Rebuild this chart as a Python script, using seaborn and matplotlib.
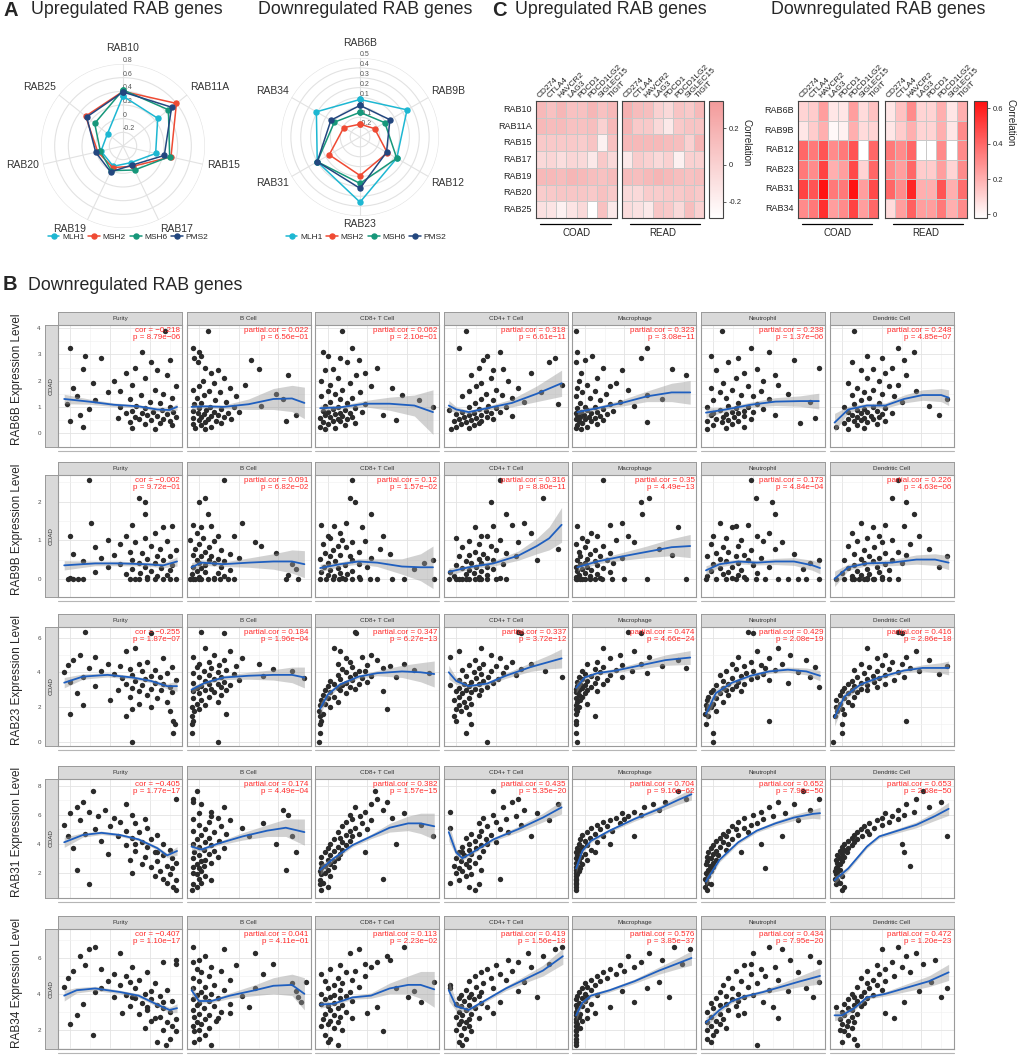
import numpy as np
import pandas as pd
import matplotlib
matplotlib.use("Agg")
import matplotlib.pyplot as plt
from matplotlib.colors import LinearSegmentedColormap
from matplotlib.lines import Line2D
import seaborn as sns

sns.set_style("white")
plt.rcParams["font.family"] = ["Liberation Sans", "DejaVu Sans"]


# ---------------------------
# 1. PANEL A - RADAR DATA
# ---------------------------
up_genes = ["RAB10", "RAB11A", "RAB15", "RAB17", "RAB19", "RAB20", "RAB25"]
up_mlh1 = [0.33, 0.25, 0.09, -0.13, -0.07, -0.07, -0.11]
up_msh2 = [0.40, 0.60, 0.32, -0.07, -0.05, -0.02, 0.30]
up_msh6 = [0.42, 0.45, 0.30, -0.01, 0.00, -0.06, 0.13]
up_pms2 = [0.39, 0.51, 0.22, -0.09, 0.02, 0.01, 0.28]

down_genes = ["RAB6B", "RAB9B", "RAB12", "RAB23", "RAB31", "RAB34"]
dn_mlh1 = [0.08, 0.25, 0.13, 0.36, 0.20, 0.21]
dn_msh2 = [-0.17, -0.13, 0.02, 0.09, 0.06, -0.11]
dn_msh6 = [-0.05, -0.01, 0.13, 0.17, 0.20, 0.00]
dn_pms2 = [0.02, 0.05, 0.01, 0.22, 0.20, 0.04]

mmr_names = ["MLH1", "MSH2", "MSH6", "PMS2"]
mmr_colors = ["#1db7d2", "#ef4a33", "#16977a", "#23477f"]


# ---------------------------
# 2. PANEL C - HEATMAP DATA
# ---------------------------
checkpoints = ["CD274", "CTLA4", "HAVCR2", "LAG3", "PDCD1", "PDCD1LG2", "SIGLEC15", "TIGIT"]

hm_up_genes = ["RAB10", "RAB11A", "RAB15", "RAB17", "RAB19", "RAB20", "RAB25"]
up_coad = [
    [0.15, 0.10, 0.17, 0.10, 0.10, 0.17, 0.10, 0.15],
    [0.15, 0.13, 0.14, 0.10, 0.10, 0.12, 0.00, 0.15],
    [0.05, 0.05, 0.05, 0.05, 0.03, 0.08, -0.20, 0.10],
    [-0.05, -0.03, -0.08, -0.03, -0.05, -0.15, 0.05, -0.05],
    [0.15, 0.15, 0.13, 0.17, 0.15, 0.12, 0.10, 0.13],
    [0.03, 0.05, 0.07, 0.07, 0.07, 0.05, 0.10, 0.05],
    [-0.10, -0.12, -0.20, -0.12, -0.05, -0.28, 0.10, -0.15],
]
up_read = [
    [0.20, 0.13, 0.12, 0.00, -0.05, 0.08, 0.05, 0.15],
    [0.18, 0.05, 0.05, -0.05, -0.15, 0.05, 0.08, 0.08],
    [0.15, 0.15, 0.15, 0.15, 0.13, 0.12, 0.00, 0.18],
    [-0.15, 0.03, 0.00, -0.05, 0.00, -0.20, 0.00, 0.00],
    [0.13, 0.12, 0.15, 0.18, 0.15, 0.12, 0.10, 0.12],
    [-0.05, -0.05, 0.03, 0.03, 0.05, 0.05, 0.08, 0.05],
    [-0.07, -0.10, -0.15, 0.07, 0.05, -0.05, 0.12, 0.00],
]

hm_dn_genes = ["RAB6B", "RAB9B", "RAB12", "RAB23", "RAB31", "RAB34"]
dn_coad = [
    [0.10, 0.12, 0.25, 0.05, 0.05, 0.25, 0.08, 0.15],
    [0.05, 0.12, 0.20, 0.00, 0.02, 0.20, 0.08, 0.10],
    [0.40, 0.35, 0.45, 0.30, 0.35, 0.45, -0.02, 0.40],
    [0.35, 0.30, 0.50, 0.20, 0.25, 0.48, 0.10, 0.40],
    [0.50, 0.45, 0.63, 0.35, 0.35, 0.63, 0.25, 0.48],
    [0.30, 0.35, 0.55, 0.25, 0.30, 0.50, 0.25, 0.40],
]
dn_read = [
    [0.05, 0.15, 0.30, 0.10, 0.10, 0.20, 0.05, 0.20],
    [0.05, 0.12, 0.20, 0.10, 0.10, 0.20, 0.05, 0.30],
    [0.35, 0.30, 0.40, -0.02, -0.02, 0.30, -0.02, 0.30],
    [0.30, 0.25, 0.40, 0.12, 0.12, 0.25, 0.10, 0.30],
    [0.40, 0.30, 0.58, 0.20, 0.20, 0.45, 0.20, 0.38],
    [0.08, 0.25, 0.42, 0.25, 0.25, 0.35, 0.20, 0.30],
]


# ---------------------------
# 3. PANEL B - SCATTER DATA
# ---------------------------
cells = ["Purity", "B Cell", "CD8+ T Cell", "CD4+ T Cell", "Macrophage", "Neutrophil", "Dendritic Cell"]

# RAB6B
rab6b_y = [3.9, 3.25, 3.1, 2.95, 2.85, 2.8, 2.7, 2.5, 2.45, 2.4, 2.3, 2.2, 2.1, 2.0, 1.9, 1.85, 1.8, 1.7, 1.65, 1.6,
           1.55, 1.5, 1.45, 1.4, 1.35, 1.3, 1.25, 1.2, 1.15, 1.1, 1.05, 1.0, 0.98, 0.95, 0.9, 0.88, 0.85, 0.82, 0.8, 0.78,
           0.75, 0.72, 0.7, 0.68, 0.65, 0.62, 0.6, 0.58, 0.55, 0.52, 0.5, 0.48, 0.45, 0.42, 0.4, 0.35, 0.3, 0.25, 0.2, 0.15]
rab6b_x = [
    [0.86, 0.1, 0.68, 0.22, 0.35, 0.9, 0.75, 0.62, 0.2, 0.8, 0.55, 0.88, 0.7, 0.45, 0.28, 0.6, 0.95, 0.12, 0.78, 0.5,
     0.4, 0.85, 0.67, 0.15, 0.92, 0.58, 0.3, 0.74, 0.82, 0.07, 0.63, 0.9, 0.5, 0.7, 0.25, 0.84, 0.6, 0.77, 0.93, 0.55,
     0.68, 0.88, 0.18, 0.72, 0.8, 0.62, 0.95, 0.48, 0.85, 0.65, 0.75, 0.9, 0.1, 0.58, 0.82, 0.7, 0.92, 0.2, 0.6, 0.78],
    [0.17, 0.05, 0.1, 0.12, 0.06, 0.52, 0.09, 0.15, 0.58, 0.25, 0.2, 0.82, 0.3, 0.13, 0.22, 0.47, 0.1, 0.35, 0.05, 0.18,
     0.27, 0.72, 0.14, 0.4, 0.08, 0.78, 0.23, 0.32, 0.12, 0.06, 0.6, 0.19, 0.38, 0.1, 0.28, 0.16, 0.05, 0.42, 0.22, 0.09,
     0.33, 0.14, 0.25, 0.88, 0.2, 0.12, 0.3, 0.05, 0.17, 0.36, 0.1, 0.24, 0.8, 0.15, 0.28, 0.05, 0.12, 0.2, 0.07, 0.15],
    [0.22, 0.3, 0.06, 0.1, 0.2, 0.35, 0.26, 0.5, 0.14, 0.08, 0.4, 0.33, 0.18, 0.05, 0.28, 0.12, 0.45, 0.62, 0.22, 0.1,
     0.36, 0.16, 0.7, 0.05, 0.3, 0.2, 0.84, 0.12, 0.26, 0.4, 0.08, 0.18, 0.95, 0.32, 0.14, 0.24, 0.06, 0.38, 0.1, 0.2,
     0.28, 0.16, 0.55, 0.08, 0.22, 0.3, 0.12, 0.04, 0.18, 0.26, 0.65, 0.14, 0.2, 0.06, 0.32, 0.1, 0.24, 0.04, 0.16, 0.08],
    [0.18, 0.12, 0.45, 0.35, 0.9, 0.32, 0.85, 0.28, 0.48, 0.4, 0.7, 0.22, 0.38, 0.52, 0.3, 0.95, 0.26, 0.6, 0.42, 0.2,
     0.78, 0.34, 0.47, 0.15, 0.55, 0.3, 0.4, 0.65, 0.25, 0.92, 0.36, 0.5, 0.2, 0.42, 0.28, 0.04, 0.34, 0.15, 0.45, 0.24,
     0.38, 0.1, 0.3, 0.2, 0.55, 0.16, 0.35, 0.26, 0.12, 0.4, 0.22, 0.3, 0.08, 0.18, 0.28, 0.14, 0.24, 0.1, 0.2, 0.06],
    [0.03, 0.6, 0.04, 0.16, 0.55, 0.1, 0.03, 0.25, 0.8, 0.4, 0.07, 0.92, 0.2, 0.05, 0.35, 0.12, 0.3, 0.04, 0.45, 0.18,
     0.08, 0.27, 0.6, 0.03, 0.14, 0.72, 0.22, 0.38, 0.06, 0.3, 0.5, 0.1, 0.18, 0.04, 0.25, 0.12, 0.33, 0.07, 0.2, 0.03,
     0.15, 0.28, 0.09, 0.04, 0.22, 0.13, 0.06, 0.18, 0.03, 0.1, 0.25, 0.05, 0.15, 0.6, 0.08, 0.2, 0.04, 0.12, 0.03, 0.07],
    [0.17, 0.4, 0.55, 0.08, 0.3, 0.75, 0.22, 0.95, 0.45, 0.12, 0.35, 0.6, 0.28, 0.5, 0.18, 0.62, 0.38, 0.08, 0.25, 0.48,
     0.15, 0.7, 0.32, 0.42, 0.2, 0.55, 0.1, 0.88, 0.3, 0.45, 0.22, 0.38, 0.05, 0.28, 0.5, 0.15, 0.35, 0.25, 0.42, 0.1,
     0.3, 0.2, 0.6, 0.08, 0.35, 0.18, 0.27, 0.92, 0.12, 0.4, 0.22, 0.3, 0.05, 0.17, 0.8, 0.25, 0.1, 0.35, 0.2, 0.05],
    [0.2, 0.55, 0.68, 0.3, 0.42, 0.6, 0.18, 0.5, 0.35, 0.25, 0.45, 0.62, 0.3, 0.4, 0.15, 0.55, 0.48, 0.22, 0.35, 0.7,
     0.28, 0.42, 0.18, 0.52, 0.32, 0.95, 0.25, 0.58, 0.4, 0.2, 0.8, 0.35, 0.12, 0.45, 0.28, 0.22, 0.38, 0.15, 0.3, 0.5,
     0.25, 0.42, 0.18, 0.88, 0.33, 0.22, 0.4, 0.28, 0.15, 0.35, 0.25, 0.45, 0.2, 0.3, 0.12, 0.38, 0.22, 0.05, 0.28, 0.15],
]
rab6b_fit_x = [[0.05, 0.25, 0.45, 0.65, 0.8, 0.9, 0.96], [0.04, 0.15, 0.3, 0.5, 0.7, 0.85, 0.95],
               [0.04, 0.2, 0.4, 0.6, 0.8, 0.95], [0.04, 0.1, 0.2, 0.35, 0.55, 0.75, 0.95],
               [0.04, 0.2, 0.4, 0.6, 0.8, 0.95], [0.04, 0.2, 0.4, 0.6, 0.8, 0.95],
               [0.04, 0.15, 0.3, 0.45, 0.6, 0.75, 0.9, 0.96]]
rab6b_fit_y = [[1.3, 1.2, 1.08, 1.02, 0.9, 0.88, 1.0], [1.0, 1.02, 1.0, 1.1, 1.3, 1.32, 1.15],
               [0.95, 0.98, 1.12, 1.12, 1.05, 0.8], [1.05, 0.9, 0.8, 0.95, 1.15, 1.5, 1.9],
               [0.8, 0.95, 1.15, 1.4, 1.55, 1.55], [0.78, 0.9, 1.08, 1.2, 1.22, 1.22],
               [0.4, 0.9, 1.05, 1.05, 1.3, 1.45, 1.45, 1.35]]
rab6b_fit_se = [[0.18, 0.1, 0.07, 0.06, 0.07, 0.08, 0.12], [0.12, 0.06, 0.07, 0.2, 0.4, 0.5, 0.6],
                [0.12, 0.06, 0.12, 0.25, 0.4, 0.85], [0.2, 0.1, 0.07, 0.07, 0.15, 0.3, 0.5],
                [0.1, 0.07, 0.12, 0.2, 0.35, 0.45], [0.18, 0.08, 0.1, 0.15, 0.2, 0.3],
                [0.35, 0.12, 0.08, 0.1, 0.15, 0.2, 0.25, 0.3]]
rab6b_stats = [("−0.218", "8.79e−06"), ("0.022", "6.56e−01"), ("0.062", "2.10e−01"), ("0.318", "6.61e−11"),
               ("0.323", "3.08e−11"), ("0.238", "1.37e−06"), ("0.248", "4.85e−07")]

# RAB9B
rab9b_y = [2.55, 2.1, 1.98, 1.68, 1.45, 1.4, 1.38, 1.35, 1.2, 1.12, 1.1, 1.05, 1.0, 0.98, 0.95, 0.9, 0.85, 0.82, 0.78, 0.75,
           0.7, 0.68, 0.65, 0.62, 0.6, 0.58, 0.55, 0.52, 0.5, 0.48, 0.45, 0.42, 0.4, 0.38, 0.35, 0.32, 0.3, 0.28, 0.25, 0.22,
           0.2, 0.18, 0.15, 0.12, 0.1, 0.08, 0.05, 0.03, 0.0, 0.0, 0.0, 0.0, 0.0, 0.0, 0.0, 0.0, 0.0, 0.0, 0.0, 0.0]
rab9b_x = [
    [0.25, 0.65, 0.7, 0.7, 0.27, 0.6, 0.92, 0.85, 0.78, 0.1, 0.55, 0.7, 0.4, 0.88, 0.62, 0.5, 0.75, 0.3, 0.82, 0.95,
     0.58, 0.68, 0.12, 0.45, 0.8, 0.9, 0.35, 0.72, 0.6, 0.85, 0.2, 0.65, 0.78, 0.5, 0.92, 0.7, 0.4, 0.83, 0.6, 0.9,
     0.75, 0.3, 0.66, 0.55, 0.88, 0.8, 0.72, 0.1, 0.08, 0.12, 0.16, 0.2, 0.58, 0.65, 0.72, 0.78, 0.85, 0.9, 0.62, 0.95],
    [0.3, 0.15, 0.1, 0.17, 0.45, 0.05, 0.2, 0.12, 0.08, 0.25, 0.38, 0.13, 0.03, 0.22, 0.55, 0.1, 0.6, 0.18, 0.07, 0.28,
     0.15, 0.72, 0.35, 0.05, 0.2, 0.12, 0.42, 0.25, 0.08, 0.18, 0.3, 0.1, 0.22, 0.85, 0.15, 0.05, 0.28, 0.12, 0.88, 0.35,
     0.08, 0.15, 0.25, 0.04, 0.82, 0.3, 0.1, 0.22, 0.03, 0.07, 0.12, 0.17, 0.22, 0.27, 0.33, 0.38, 0.05, 0.1, 0.8, 0.9],
    [0.3, 0.28, 0.32, 0.45, 0.25, 0.05, 0.15, 0.38, 0.2, 0.1, 0.55, 0.12, 0.22, 0.4, 0.3, 0.06, 0.18, 0.25, 0.52, 0.14,
     0.35, 0.08, 0.6, 0.2, 0.28, 0.12, 0.45, 0.04, 0.95, 0.3, 0.16, 0.88, 0.1, 0.35, 0.24, 0.07, 0.42, 0.18, 0.8, 0.12,
     0.3, 0.05, 0.2, 0.26, 0.1, 0.15, 0.35, 0.22, 0.04, 0.09, 0.14, 0.19, 0.24, 0.3, 0.36, 0.44, 0.5, 0.62, 0.72, 0.96],
    [0.45, 0.8, 0.38, 0.5, 0.65, 0.55, 0.4, 0.25, 0.7, 0.3, 0.35, 0.1, 0.45, 0.2, 0.6, 0.28, 0.38, 0.15, 0.92, 0.42,
     0.25, 0.5, 0.32, 0.2, 0.58, 0.12, 0.35, 0.28, 0.75, 0.4, 0.18, 0.3, 0.22, 0.48, 0.1, 0.35, 0.26, 0.15, 0.4, 0.2,
     0.3, 0.05, 0.24, 0.18, 0.35, 0.08, 0.28, 0.45, 0.04, 0.1, 0.15, 0.2, 0.25, 0.3, 0.35, 0.42, 0.5, 0.18, 0.12, 0.28],
    [0.25, 0.62, 0.55, 0.56, 0.4, 0.3, 0.04, 0.85, 0.15, 0.45, 0.2, 0.08, 0.35, 0.12, 0.5, 0.03, 0.25, 0.1, 0.7, 0.18,
     0.05, 0.3, 0.14, 0.8, 0.22, 0.06, 0.4, 0.12, 0.28, 0.04, 0.18, 0.1, 0.33, 0.06, 0.2, 0.03, 0.12, 0.25, 0.08, 0.15,
     0.04, 0.3, 0.1, 0.2, 0.05, 0.14, 0.03, 0.22, 0.03, 0.06, 0.1, 0.14, 0.18, 0.24, 0.32, 0.42, 0.6, 0.92, 0.08, 0.04],
    [0.4, 0.44, 0.57, 0.6, 0.15, 0.38, 0.28, 0.25, 0.55, 0.1, 0.45, 0.2, 0.32, 0.5, 0.65, 0.08, 0.3, 0.18, 0.6, 0.4,
     0.22, 0.12, 0.75, 0.35, 0.05, 0.28, 0.48, 0.15, 0.95, 0.38, 0.2, 0.88, 0.3, 0.1, 0.42, 0.25, 0.55, 0.15, 0.82, 0.32,
     0.08, 0.22, 0.45, 0.18, 0.3, 0.05, 0.35, 0.25, 0.04, 0.12, 0.2, 0.28, 0.36, 0.44, 0.52, 0.62, 0.7, 0.78, 0.85, 0.95],
    [0.55, 0.5, 0.62, 0.68, 0.25, 0.45, 0.6, 0.35, 0.18, 0.72, 0.4, 0.3, 0.5, 0.22, 0.42, 0.65, 0.15, 0.36, 0.8, 0.28,
     0.55, 0.45, 0.2, 0.62, 0.32, 0.95, 0.4, 0.25, 0.5, 0.12, 0.35, 0.58, 0.28, 0.45, 0.2, 0.88, 0.38, 0.15, 0.3, 0.48,
     0.22, 0.4, 0.1, 0.32, 0.25, 0.18, 0.42, 0.3, 0.05, 0.12, 0.18, 0.24, 0.3, 0.36, 0.42, 0.48, 0.55, 0.2, 0.28, 0.35],
]
rab9b_fit_x = [[0.05, 0.3, 0.5, 0.7, 0.85, 0.96], [0.04, 0.12, 0.3, 0.5, 0.7, 0.85, 0.95],
               [0.04, 0.2, 0.35, 0.5, 0.7, 0.85, 0.95], [0.04, 0.2, 0.4, 0.6, 0.75, 0.85, 0.95],
               [0.04, 0.2, 0.4, 0.6, 0.8, 0.95], [0.04, 0.15, 0.3, 0.45, 0.6, 0.75, 0.9, 0.96],
               [0.04, 0.15, 0.3, 0.5, 0.7, 0.85, 0.96]]
rab9b_fit_y = [[0.35, 0.4, 0.4, 0.38, 0.35, 0.45], [0.3, 0.42, 0.38, 0.42, 0.45, 0.45, 0.38],
               [0.28, 0.38, 0.45, 0.42, 0.32, 0.3, 0.3], [0.18, 0.3, 0.4, 0.6, 0.85, 1.05, 1.4],
               [0.3, 0.45, 0.58, 0.7, 0.82, 0.85], [0.22, 0.38, 0.45, 0.42, 0.45, 0.45, 0.35, 0.28],
               [0.0, 0.3, 0.4, 0.42, 0.5, 0.5, 0.42]]
rab9b_fit_se = [[0.12, 0.06, 0.06, 0.05, 0.06, 0.12], [0.12, 0.07, 0.06, 0.12, 0.2, 0.3, 0.35],
                [0.1, 0.06, 0.07, 0.1, 0.2, 0.35, 0.55], [0.1, 0.05, 0.07, 0.12, 0.2, 0.3, 0.45],
                [0.1, 0.06, 0.1, 0.15, 0.22, 0.3], [0.12, 0.07, 0.06, 0.06, 0.08, 0.1, 0.13, 0.15],
                [0.2, 0.08, 0.06, 0.08, 0.12, 0.15, 0.18]]
rab9b_stats = [("−0.002", "9.72e−01"), ("0.091", "6.82e−02"), ("0.12", "1.57e−02"), ("0.316", "8.80e−11"),
               ("0.35", "4.49e−13"), ("0.173", "4.84e−04"), ("0.226", "4.63e−06")]

# RAB23
rab23_y = [6.3, 5.4, 5.2, 5.0, 4.9, 4.8, 4.7, 4.6, 4.5, 4.45, 4.4, 4.35, 4.3, 4.25, 4.2, 4.15, 4.1, 4.05, 4.0, 3.95,
           3.9, 3.85, 3.8, 3.75, 3.7, 3.65, 3.6, 3.55, 3.5, 3.45, 3.4, 3.35, 3.3, 3.25, 3.2, 3.15, 3.1, 3.05, 3.0, 2.95,
           2.9, 2.85, 2.8, 2.7, 2.6, 2.5, 2.4, 2.3, 2.2, 2.1, 2.0, 1.9, 1.75, 1.6, 1.5, 1.2, 1.0, 0.5, 0.0, 6.25]
rab23_x = [
    [0.22, 0.62, 0.55, 0.18, 0.3, 0.85, 0.12, 0.72, 0.4, 0.65, 0.08, 0.5, 0.92, 0.25, 0.58, 0.78, 0.35, 0.68, 0.05, 0.88,
     0.45, 0.6, 0.75, 0.2, 0.82, 0.52, 0.7, 0.95, 0.62, 0.1, 0.78, 0.55, 0.85, 0.68, 0.3, 0.9, 0.6, 0.75, 0.48, 0.83,
     0.65, 0.92, 0.15, 0.72, 0.58, 0.8, 0.42, 0.88, 0.65, 0.2, 0.75, 0.6, 0.9, 0.1, 0.55, 0.93, 0.94, 0.93, 0.6, 0.75],
    [0.12, 0.15, 0.35, 0.22, 0.05, 0.45, 0.3, 0.18, 0.58, 0.1, 0.26, 0.4, 0.08, 0.2, 0.7, 0.32, 0.14, 0.85, 0.25, 0.05,
     0.38, 0.18, 0.62, 0.28, 0.1, 0.95, 0.22, 0.42, 0.15, 0.3, 0.05, 0.25, 0.18, 0.35, 0.12, 0.28, 0.08, 0.2, 0.32, 0.15,
     0.05, 0.22, 0.1, 0.28, 0.18, 0.05, 0.12, 0.25, 0.08, 0.15, 0.04, 0.1, 0.06, 0.32, 0.04, 0.05, 0.04, 0.04, 0.25, 0.3],
    [0.32, 0.15, 0.2, 0.45, 0.38, 0.25, 0.5, 0.28, 0.72, 0.18, 0.42, 0.6, 0.3, 0.55, 0.22, 0.8, 0.35, 0.4, 0.25, 0.92,
     0.32, 0.18, 0.45, 0.28, 0.65, 0.38, 0.2, 0.3, 0.12, 0.42, 0.25, 0.15, 0.35, 0.22, 0.1, 0.28, 0.18, 0.32, 0.08, 0.2,
     0.55, 0.12, 0.25, 0.06, 0.15, 0.1, 0.05, 0.18, 0.08, 0.04, 0.12, 0.58, 0.03, 0.06, 0.04, 0.05, 0.04, 0.04, 0.03, 0.33],
    [0.6, 0.3, 0.12, 0.38, 0.05, 0.45, 0.25, 0.55, 0.32, 0.7, 0.2, 0.42, 0.5, 0.28, 0.62, 0.15, 0.38, 0.82, 0.24, 0.48,
     0.3, 0.58, 0.18, 0.36, 0.95, 0.26, 0.44, 0.12, 0.32, 0.22, 0.4, 0.16, 0.28, 0.05, 0.2, 0.35, 0.12, 0.25, 0.18, 0.3,
     0.1, 0.22, 0.15, 0.28, 0.12, 0.2, 0.08, 0.16, 0.22, 0.12, 0.18, 0.1, 0.14, 0.2, 0.08, 0.1, 0.22, 0.18, 0.35, 0.62],
    [0.45, 0.25, 0.5, 0.38, 0.62, 0.3, 0.85, 0.2, 0.55, 0.12, 0.4, 0.72, 0.25, 0.92, 0.18, 0.35, 0.08, 0.48, 0.22, 0.6,
     0.1, 0.3, 0.15, 0.05, 0.4, 0.2, 0.08, 0.28, 0.12, 0.04, 0.18, 0.06, 0.25, 0.1, 0.04, 0.15, 0.08, 0.03, 0.12, 0.05,
     0.2, 0.03, 0.1, 0.05, 0.08, 0.03, 0.06, 0.04, 0.12, 0.03, 0.05, 0.03, 0.04, 0.03, 0.18, 0.03, 0.03, 0.03, 0.04, 0.55],
    [0.38, 0.62, 0.45, 0.72, 0.3, 0.55, 0.85, 0.4, 0.25, 0.65, 0.48, 0.35, 0.92, 0.52, 0.28, 0.6, 0.42, 0.2, 0.78, 0.36,
     0.5, 0.15, 0.32, 0.45, 0.88, 0.25, 0.4, 0.55, 0.18, 0.3, 0.7, 0.22, 0.35, 0.12, 0.28, 0.95, 0.18, 0.25, 0.1, 0.2,
     0.32, 0.08, 0.15, 0.22, 0.06, 0.12, 0.05, 0.18, 0.1, 0.04, 0.08, 0.05, 0.12, 0.03, 0.06, 0.55, 0.04, 0.1, 0.1, 0.42],
    [0.55, 0.3, 0.7, 0.45, 0.62, 0.38, 0.8, 0.5, 0.25, 0.58, 0.42, 0.95, 0.32, 0.65, 0.48, 0.2, 0.72, 0.38, 0.55, 0.28,
     0.88, 0.45, 0.35, 0.6, 0.22, 0.4, 0.3, 0.52, 0.18, 0.36, 0.25, 0.45, 0.15, 0.3, 0.2, 0.38, 0.12, 0.25, 0.18, 0.3,
     0.1, 0.22, 0.15, 0.08, 0.2, 0.12, 0.05, 0.15, 0.08, 0.18, 0.05, 0.1, 0.06, 0.12, 0.04, 0.62, 0.1, 0.1, 0.03, 0.58],
]
rab23_fit_x = [[0.05, 0.2, 0.4, 0.6, 0.75, 0.88, 0.96], [0.04, 0.15, 0.3, 0.5, 0.7, 0.85, 0.95],
               [0.04, 0.1, 0.2, 0.35, 0.5, 0.7, 0.85, 0.96], [0.04, 0.1, 0.2, 0.35, 0.5, 0.7, 0.85, 0.95],
               [0.03, 0.1, 0.2, 0.35, 0.55, 0.75, 0.95], [0.04, 0.12, 0.25, 0.4, 0.55, 0.7, 0.85, 0.96],
               [0.04, 0.12, 0.25, 0.4, 0.6, 0.75, 0.9, 0.96]]
rab23_fit_y = [[3.4, 3.75, 3.85, 3.7, 3.5, 3.2, 3.2], [3.0, 3.4, 3.7, 3.8, 3.85, 3.85, 3.7],
               [1.9, 2.7, 3.3, 3.75, 3.95, 4.05, 4.0, 3.9], [4.0, 3.5, 3.2, 3.35, 3.8, 4.3, 4.6, 4.8],
               [3.1, 3.7, 3.95, 4.1, 4.4, 4.7, 4.85], [1.6, 2.8, 3.4, 3.8, 4.05, 4.15, 4.05, 3.8],
               [1.4, 2.6, 3.3, 3.7, 4.1, 4.25, 4.25, 4.25]]
rab23_fit_se = [[0.3, 0.15, 0.12, 0.1, 0.1, 0.15, 0.3], [0.2, 0.1, 0.12, 0.2, 0.3, 0.45, 0.6],
                [0.35, 0.2, 0.1, 0.1, 0.15, 0.35, 0.55, 0.75], [0.4, 0.2, 0.1, 0.1, 0.15, 0.25, 0.4, 0.55],
                [0.3, 0.12, 0.1, 0.12, 0.2, 0.3, 0.4], [0.5, 0.25, 0.12, 0.1, 0.12, 0.15, 0.2, 0.3],
                [0.5, 0.25, 0.12, 0.1, 0.12, 0.18, 0.3, 0.4]]
rab23_stats = [("−0.255", "1.87e−07"), ("0.184", "1.96e−04"), ("0.347", "6.27e−13"), ("0.337", "3.72e−12"),
               ("0.474", "4.66e−24"), ("0.429", "2.08e−19"), ("0.416", "2.86e−18")]

# RAB31
rab31_y = [7.6, 7.1, 6.9, 6.7, 6.5, 6.3, 6.2, 6.1, 6.0, 5.9, 5.8, 5.7, 5.6, 5.5, 5.4, 5.3, 5.2, 5.1, 5.0, 4.9,
           4.8, 4.7, 4.6, 4.5, 4.4, 4.3, 4.2, 4.1, 4.0, 3.9, 3.8, 3.7, 3.6, 3.5, 3.4, 3.3, 3.2, 3.1, 3.0, 2.9,
           2.8, 2.7, 2.6, 2.5, 2.4, 2.3, 2.2, 2.1, 2.0, 1.9, 1.8, 1.6, 1.5, 1.3, 1.2, 1.0, 0.8, 4.55, 3.95, 3.45]
rab31_x = [
    [0.28, 0.95, 0.2, 0.55, 0.15, 0.38, 0.25, 0.1, 0.6, 0.32, 0.45, 0.7, 0.18, 0.5, 0.62, 0.05, 0.42, 0.72, 0.3, 0.55,
     0.65, 0.22, 0.8, 0.48, 0.6, 0.75, 0.35, 0.68, 0.85, 0.55, 0.72, 0.12, 0.9, 0.62, 0.78, 0.4, 0.85, 0.7, 0.92, 0.58,
     0.8, 0.95, 0.68, 0.88, 0.75, 0.92, 0.15, 0.82, 0.6, 0.9, 0.78, 0.85, 0.95, 0.88, 0.25, 0.93, 0.95, 0.08, 0.62, 0.8],
    [0.08, 0.05, 0.05, 0.12, 0.3, 0.78, 0.2, 0.1, 0.82, 0.2, 0.25, 0.05, 0.35, 0.18, 0.62, 0.1, 0.28, 0.45, 0.15, 0.05,
     0.22, 0.32, 0.12, 0.5, 0.18, 0.08, 0.26, 0.15, 0.05, 0.2, 0.1, 0.3, 0.14, 0.22, 0.06, 0.18, 0.1, 0.25, 0.05, 0.15,
     0.12, 0.2, 0.08, 0.14, 0.05, 0.1, 0.8, 0.12, 0.05, 0.08, 0.15, 0.1, 0.2, 0.12, 0.05, 0.08, 0.04, 0.85, 0.72, 0.88],
    [0.48, 0.5, 0.58, 0.45, 0.32, 0.55, 0.4, 0.72, 0.28, 0.36, 0.62, 0.3, 0.45, 0.25, 0.38, 0.85, 0.22, 0.32, 0.42, 0.28,
     0.18, 0.35, 0.25, 0.3, 0.2, 0.15, 0.28, 0.22, 0.12, 0.25, 0.18, 0.1, 0.22, 0.15, 0.08, 0.2, 0.12, 0.05, 0.18, 0.1,
     0.15, 0.05, 0.12, 0.08, 0.15, 0.05, 0.1, 0.04, 0.08, 0.05, 0.12, 0.55, 0.04, 0.06, 0.04, 0.1, 0.05, 0.95, 0.65, 0.4],
    [0.4, 0.6, 0.55, 0.92, 0.48, 0.65, 0.05, 0.75, 0.4, 0.58, 0.32, 0.5, 0.85, 0.42, 0.28, 0.62, 0.35, 0.05, 0.45, 0.3,
     0.52, 0.22, 0.38, 0.28, 0.18, 0.34, 0.25, 0.42, 0.2, 0.3, 0.15, 0.26, 0.2, 0.32, 0.12, 0.22, 0.16, 0.28, 0.1, 0.2,
     0.14, 0.25, 0.18, 0.08, 0.2, 0.12, 0.3, 0.15, 0.1, 0.22, 0.18, 0.45, 0.12, 0.05, 0.28, 0.2, 0.25, 0.7, 0.35, 0.15],
    [0.85, 0.92, 0.75, 0.65, 0.58, 0.7, 0.5, 0.4, 0.55, 0.45, 0.35, 0.42, 0.3, 0.25, 0.38, 0.2, 0.28, 0.15, 0.22, 0.32,
     0.12, 0.18, 0.08, 0.25, 0.14, 0.06, 0.1, 0.2, 0.05, 0.12, 0.08, 0.04, 0.15, 0.06, 0.03, 0.1, 0.04, 0.07, 0.03, 0.12,
     0.05, 0.03, 0.08, 0.04, 0.03, 0.06, 0.03, 0.05, 0.03, 0.04, 0.03, 0.03, 0.03, 0.03, 0.03, 0.03, 0.03, 0.5, 0.3, 0.18],
    [0.82, 0.95, 0.62, 0.75, 0.55, 0.88, 0.48, 0.68, 0.42, 0.58, 0.35, 0.5, 0.78, 0.3, 0.45, 0.4, 0.25, 0.35, 0.28, 0.22,
     0.38, 0.18, 0.3, 0.2, 0.15, 0.25, 0.12, 0.18, 0.22, 0.1, 0.15, 0.08, 0.2, 0.12, 0.06, 0.1, 0.14, 0.05, 0.08, 0.12,
     0.05, 0.1, 0.04, 0.07, 0.1, 0.52, 0.06, 0.08, 0.04, 0.05, 0.06, 0.03, 0.04, 0.05, 0.08, 0.03, 0.05, 0.65, 0.48, 0.32],
    [0.75, 0.7, 0.9, 0.62, 0.8, 0.55, 0.68, 0.45, 0.6, 0.5, 0.42, 0.55, 0.38, 0.48, 0.32, 0.42, 0.28, 0.36, 0.25, 0.3,
     0.22, 0.32, 0.2, 0.26, 0.18, 0.22, 0.15, 0.2, 0.12, 0.18, 0.1, 0.15, 0.12, 0.08, 0.14, 0.1, 0.06, 0.12, 0.08, 0.05,
     0.1, 0.06, 0.08, 0.65, 0.06, 0.05, 0.08, 0.04, 0.06, 0.05, 0.1, 0.04, 0.06, 0.08, 0.05, 0.12, 0.1, 0.95, 0.58, 0.6],
]
rab31_fit_x = [[0.05, 0.2, 0.35, 0.5, 0.65, 0.8, 0.88, 0.96], [0.04, 0.12, 0.25, 0.45, 0.65, 0.8, 0.95],
               [0.04, 0.15, 0.3, 0.45, 0.6, 0.75, 0.85, 0.96], [0.04, 0.1, 0.15, 0.25, 0.4, 0.6, 0.8, 0.95],
               [0.03, 0.08, 0.15, 0.3, 0.5, 0.7, 0.85, 0.96], [0.04, 0.15, 0.3, 0.45, 0.6, 0.75, 0.9, 0.96],
               [0.04, 0.15, 0.3, 0.4, 0.55, 0.7, 0.85, 0.96]]
rab31_fit_y = [[4.1, 4.6, 4.75, 4.6, 4.3, 3.7, 3.2, 3.5], [3.8, 3.6, 4.0, 4.5, 4.9, 5.1, 4.8],
               [2.2, 3.0, 3.9, 4.5, 5.1, 5.4, 5.4, 5.2], [4.8, 3.4, 3.0, 3.5, 4.3, 5.0, 5.8, 6.5],
               [2.3, 3.5, 4.2, 4.9, 5.7, 6.4, 7.0, 7.4], [1.4, 2.9, 4.1, 4.9, 5.4, 5.8, 6.05, 6.1],
               [1.5, 2.3, 3.8, 4.5, 4.9, 5.3, 5.9, 6.4]]
rab31_fit_se = [[0.35, 0.15, 0.12, 0.1, 0.1, 0.12, 0.15, 0.3], [0.25, 0.12, 0.12, 0.25, 0.4, 0.6, 0.9],
                [0.35, 0.15, 0.12, 0.15, 0.3, 0.5, 0.7, 0.9], [0.6, 0.25, 0.15, 0.12, 0.12, 0.2, 0.3, 0.45],
                [0.3, 0.15, 0.12, 0.1, 0.15, 0.2, 0.3, 0.4], [0.3, 0.15, 0.12, 0.12, 0.15, 0.2, 0.3, 0.4],
                [0.25, 0.15, 0.12, 0.12, 0.15, 0.2, 0.3, 0.45]]
rab31_stats = [("−0.405", "1.77e−17"), ("0.174", "4.49e−04"), ("0.382", "1.57e−15"), ("0.435", "5.35e−20"),
               ("0.704", "9.16e−62"), ("0.652", "7.98e−50"), ("0.653", "2.68e−50")]

# RAB34
rab34_y = [6.6, 6.5, 6.3, 6.1, 5.9, 5.8, 5.6, 5.5, 5.4, 5.3, 5.2, 5.1, 5.0, 4.9, 4.8, 4.7, 4.6, 4.5, 4.4, 4.3,
           4.2, 4.1, 4.0, 3.95, 3.9, 3.8, 3.75, 3.7, 3.6, 3.5, 3.45, 3.4, 3.3, 3.2, 3.1, 3.0, 2.9, 2.8, 2.7, 2.6,
           2.5, 2.4, 2.3, 2.2, 2.1, 2.0, 1.9, 1.7, 1.5, 1.3, 1.15, 4.35, 4.15, 3.85, 3.55, 3.25, 2.95, 2.65, 5.65, 4.65]
rab34_x = [
    [0.3, 0.25, 0.5, 0.18, 0.95, 0.85, 0.22, 0.6, 0.35, 0.12, 0.72, 0.45, 0.55, 0.08, 0.65, 0.4, 0.78, 0.5, 0.05, 0.62,
     0.88, 0.3, 0.7, 0.55, 0.82, 0.45, 0.62, 0.75, 0.92, 0.68, 0.2, 0.8, 0.58, 0.85, 0.72, 0.9, 0.65, 0.15, 0.82, 0.95,
     0.75, 0.88, 0.1, 0.92, 0.7, 0.85, 0.95, 0.28, 0.9, 0.8, 0.87, 0.35, 0.75, 0.6, 0.85, 0.72, 0.52, 0.78, 0.95, 0.58],
    [0.05, 0.3, 0.55, 0.15, 0.1, 0.05, 0.4, 0.2, 0.08, 0.28, 0.12, 0.62, 0.18, 0.05, 0.35, 0.1, 0.85, 0.22, 0.15, 0.05,
     0.3, 0.12, 0.2, 0.08, 0.45, 0.15, 0.25, 0.05, 0.18, 0.1, 0.35, 0.08, 0.22, 0.14, 0.05, 0.28, 0.1, 0.18, 0.06, 0.15,
     0.24, 0.08, 0.12, 0.05, 0.18, 0.1, 0.06, 0.15, 0.1, 0.06, 0.2, 0.55, 0.88, 0.9, 0.92, 0.5, 0.35, 0.25, 0.7, 0.96],
    [0.72, 0.35, 0.28, 0.58, 0.6, 0.5, 0.2, 0.45, 0.12, 0.32, 0.25, 0.05, 0.4, 0.18, 0.3, 0.08, 0.22, 0.15, 0.35, 0.1,
     0.2, 0.28, 0.05, 0.15, 0.25, 0.12, 0.2, 0.08, 0.3, 0.15, 0.05, 0.22, 0.1, 0.18, 0.12, 0.25, 0.08, 0.15, 0.2, 0.06,
     0.12, 0.18, 0.1, 0.05, 0.15, 0.22, 0.55, 0.08, 0.12, 0.1, 0.18, 0.65, 0.8, 0.75, 0.85, 0.5, 0.42, 0.3, 0.4, 0.96],
    [0.95, 0.9, 0.68, 0.8, 0.52, 0.6, 0.42, 0.7, 0.35, 0.55, 0.3, 0.45, 0.25, 0.38, 0.5, 0.2, 0.32, 0.05, 0.26, 0.4,
     0.18, 0.3, 0.22, 0.14, 0.28, 0.2, 0.12, 0.24, 0.16, 0.3, 0.1, 0.2, 0.14, 0.25, 0.18, 0.12, 0.22, 0.15, 0.1, 0.2,
     0.14, 0.18, 0.12, 0.2, 0.16, 0.1, 0.22, 0.14, 0.18, 0.12, 0.15, 0.05, 0.6, 0.75, 0.45, 0.35, 0.4, 0.28, 0.85, 0.65],
    [0.82, 0.95, 0.62, 0.45, 0.72, 0.55, 0.38, 0.5, 0.3, 0.42, 0.25, 0.35, 0.2, 0.28, 0.15, 0.22, 0.1, 0.18, 0.12, 0.08,
     0.15, 0.05, 0.1, 0.2, 0.04, 0.12, 0.08, 0.03, 0.1, 0.05, 0.15, 0.03, 0.08, 0.04, 0.12, 0.03, 0.06, 0.03, 0.05, 0.03,
     0.08, 0.03, 0.04, 0.03, 0.06, 0.03, 0.03, 0.03, 0.03, 0.03, 0.03, 0.6, 0.4, 0.78, 0.5, 0.3, 0.18, 0.12, 0.88, 0.7],
    [0.55, 0.65, 0.42, 0.88, 0.72, 0.95, 0.35, 0.6, 0.48, 0.28, 0.78, 0.4, 0.52, 0.22, 0.62, 0.32, 0.45, 0.18, 0.38, 0.25,
     0.55, 0.15, 0.3, 0.42, 0.2, 0.35, 0.12, 0.25, 0.3, 0.08, 0.2, 0.15, 0.28, 0.1, 0.22, 0.05, 0.15, 0.3, 0.08, 0.18,
     0.12, 0.05, 0.15, 0.08, 0.2, 0.05, 0.12, 0.1, 0.05, 0.08, 0.45, 0.85, 0.7, 0.9, 0.5, 0.58, 0.35, 0.62, 0.4, 0.95],
    [0.55, 0.42, 0.7, 0.62, 0.85, 0.5, 0.38, 0.58, 0.45, 0.3, 0.65, 0.4, 0.52, 0.25, 0.35, 0.45, 0.3, 0.38, 0.22, 0.32,
     0.42, 0.28, 0.18, 0.35, 0.25, 0.2, 0.3, 0.15, 0.22, 0.28, 0.12, 0.2, 0.25, 0.15, 0.18, 0.1, 0.22, 0.12, 0.18, 0.08,
     0.15, 0.2, 0.1, 0.14, 0.18, 0.08, 0.12, 0.15, 0.2, 0.1, 0.22, 0.95, 0.72, 0.9, 0.6, 0.05, 0.45, 0.52, 0.75, 0.82],
]
rab34_fit_x = [[0.05, 0.15, 0.3, 0.5, 0.65, 0.8, 0.9, 0.96], [0.04, 0.1, 0.2, 0.35, 0.55, 0.7, 0.85, 0.95],
               [0.04, 0.15, 0.3, 0.45, 0.6, 0.75, 0.85, 0.96], [0.04, 0.1, 0.2, 0.35, 0.5, 0.65, 0.8, 0.96],
               [0.03, 0.08, 0.15, 0.3, 0.5, 0.7, 0.85, 0.96], [0.04, 0.15, 0.25, 0.35, 0.5, 0.65, 0.8, 0.96],
               [0.04, 0.1, 0.2, 0.3, 0.45, 0.6, 0.8, 0.96]]
rab34_fit_y = [[3.9, 4.2, 4.3, 4.1, 3.9, 3.4, 3.1, 3.2], [4.2, 3.6, 3.6, 3.9, 4.2, 4.45, 4.5, 4.0],
               [3.4, 3.45, 3.8, 3.9, 4.3, 4.5, 4.5, 4.25], [4.2, 3.3, 3.1, 3.7, 4.3, 4.8, 5.3, 6.1],
               [2.8, 3.5, 3.9, 4.2, 4.7, 5.3, 5.7, 6.0], [2.4, 3.1, 3.6, 3.85, 4.1, 4.4, 4.7, 5.0],
               [2.8, 2.8, 3.2, 3.8, 4.0, 4.3, 4.7, 5.2]]
rab34_fit_se = [[0.3, 0.15, 0.12, 0.1, 0.1, 0.12, 0.15, 0.25], [0.3, 0.12, 0.1, 0.15, 0.3, 0.45, 0.6, 0.9],
                [0.2, 0.1, 0.1, 0.15, 0.3, 0.5, 0.75, 1.0], [0.6, 0.25, 0.12, 0.1, 0.12, 0.2, 0.3, 0.45],
                [0.3, 0.15, 0.12, 0.1, 0.12, 0.2, 0.3, 0.4], [0.3, 0.15, 0.12, 0.1, 0.12, 0.2, 0.3, 0.45],
                [0.3, 0.2, 0.12, 0.1, 0.12, 0.2, 0.3, 0.45]]
rab34_stats = [("−0.407", "1.10e−17"), ("0.041", "4.11e−01"), ("0.113", "2.23e−02"), ("0.419", "1.56e−18"),
               ("0.576", "3.85e−37"), ("0.434", "7.95e−20"), ("0.472", "1.20e−23")]

rows = [
    ("RAB6B", rab6b_y, rab6b_x, rab6b_fit_x, rab6b_fit_y, rab6b_fit_se, rab6b_stats),
    ("RAB9B", rab9b_y, rab9b_x, rab9b_fit_x, rab9b_fit_y, rab9b_fit_se, rab9b_stats),
    ("RAB23", rab23_y, rab23_x, rab23_fit_x, rab23_fit_y, rab23_fit_se, rab23_stats),
    ("RAB31", rab31_y, rab31_x, rab31_fit_x, rab31_fit_y, rab31_fit_se, rab31_stats),
    ("RAB34", rab34_y, rab34_x, rab34_fit_x, rab34_fit_y, rab34_fit_se, rab34_stats),
]


# ---------------------------
# 4. FIGURE + HELPERS
# ---------------------------
W, H = 1017, 1057
fig = plt.figure(figsize=(W / 100, H / 100), dpi=100)


def box(x0, y0, x1, y1):
    return [x0 / W, 1 - y1 / H, (x1 - x0) / W, (y1 - y0) / H]


def put(x, y, s, **kw):
    fig.text(x / W, 1 - y / H, s, **kw)


def hline(x0, x1, y, color="black", lw=0.9):
    fig.add_artist(Line2D([x0 / W, x1 / W], [1 - y / H, 1 - y / H], color=color, lw=lw))


# titles
put(3, 10, "A", fontsize=14.5, fontweight="bold", va="center")
put(31, 10, "Upregulated RAB genes", fontsize=12.8, va="center")
put(258, 10, "Downregulated RAB genes", fontsize=12.8, va="center")
put(492, 10, "C", fontsize=14.5, fontweight="bold", va="center")
put(515, 10, "Upregulated RAB genes", fontsize=12.8, va="center")
put(771, 10, "Downregulated RAB genes", fontsize=12.8, va="center")
put(3, 285, "B", fontsize=14.5, fontweight="bold", va="center")
put(28, 285, "Downregulated RAB genes", fontsize=12.8, va="center")


# ---------------------------
# 5. RADAR CHARTS
# ---------------------------
def radar(bx, labels, series, rmin, rmax, rticks, label_off, top_extra, legend_x):
    ax = fig.add_axes(box(*bx), projection="polar")
    ang = np.linspace(0, 2 * np.pi, len(labels), endpoint=False)
    ax.set_theta_zero_location("N")
    ax.set_theta_direction(-1)
    ax.set_ylim(rmin, rmax)
    ax.set_xticks(ang)
    ax.set_xticklabels([])
    ax.set_yticks(rticks)
    ax.set_yticklabels([f"{t:g}" for t in rticks], fontsize=5, color="#555555")
    ax.set_rlabel_position(0)
    ax.grid(color="#e2e2e2", lw=0.8)
    ax.spines["polar"].set_visible(False)
    # category labels hugging the outer ring (top one lifted over the radial tick labels)
    for a, name in zip(ang, labels):
        s, c = np.sin(a), np.cos(a)
        ha = "left" if s > 0.3 else ("right" if s < -0.3 else "center")
        va = "bottom" if c > 0.3 else ("top" if c < -0.3 else "center")
        off = label_off + (top_extra if c > 0.95 else 0)
        ax.text(a, rmax + off, name, ha=ha, va=va, fontsize=7.5, color="#333333", clip_on=False)
    for vals, col in zip(series, mmr_colors):
        a = np.append(ang, ang[0])
        v = np.append(vals, vals[0])
        ax.plot(a, v, color=col, lw=1.1, marker="o", ms=3.6, zorder=3)
    handles = [Line2D([0], [0], color=c, lw=1.1, marker="o", ms=3.6) for c in mmr_colors]
    fig.legend(handles, mmr_names, loc="center", bbox_to_anchor=(legend_x / W, 1 - 237 / H), ncol=4,
               frameon=False, fontsize=6, handlelength=1.4, columnspacing=0.5, handletextpad=0.3)


radar((41, 64, 205, 228), up_genes, [up_mlh1, up_msh2, up_msh6, up_pms2], -0.4, 0.8,
      [-0.2, 0, 0.2, 0.4, 0.6, 0.8], 0.06, 0.1, 128)
radar((281, 58, 439, 216), down_genes, [dn_mlh1, dn_msh2, dn_msh6, dn_pms2], -0.3, 0.5,
      [-0.2, -0.1, 0, 0.1, 0.2, 0.3, 0.4, 0.5], 0.03, 0.07, 366)


# ---------------------------
# 6. HEATMAPS
# ---------------------------
up_cmap = LinearSegmentedColormap.from_list("up", ["#ffffff", "#f39a9a"])
dn_cmap = LinearSegmentedColormap.from_list("dn", ["#ffffff", "#ff1010"])


def heat(coad, read, genes, cx, rx, bx, cmap, vmin, vmax, cticks, corr_xy):
    ax1 = fig.add_axes(box(cx[0], 101, cx[1], 218))
    ax2 = fig.add_axes(box(rx[0], 101, rx[1], 218))
    cax = fig.add_axes(box(bx[0], 101, bx[1], 218))
    sns.heatmap(pd.DataFrame(coad, index=genes, columns=checkpoints), ax=ax1, cmap=cmap, vmin=vmin, vmax=vmax,
                linewidths=0.6, linecolor="#c9c9c9", cbar_ax=cax, xticklabels=True, yticklabels=True)
    sns.heatmap(pd.DataFrame(read, index=genes, columns=checkpoints), ax=ax2, cmap=cmap, vmin=vmin, vmax=vmax,
                linewidths=0.6, linecolor="#c9c9c9", cbar=False, xticklabels=True, yticklabels=False)
    for ax in (ax1, ax2):
        ax.xaxis.tick_top()
        plt.setp(ax.get_xticklabels(), rotation=45, ha="left", va="bottom", rotation_mode="anchor",
                 fontsize=6, color="#222222")
        ax.tick_params(length=0, pad=1)
        ax.set_xlabel("")
        ax.set_ylabel("")
        for sp in ax.spines.values():
            sp.set_visible(True)
            sp.set_color("#444444")
            sp.set_linewidth(0.8)
    plt.setp(ax1.get_yticklabels(), rotation=0, fontsize=6.5, color="#222222")
    ax1.tick_params(axis="y", pad=3)
    cbar = ax1.collections[0].colorbar
    cbar.set_ticks(cticks)
    cbar.set_ticklabels([f"{t:g}" for t in cticks])
    cbar.outline.set_edgecolor("#444444")
    cbar.outline.set_linewidth(0.8)
    cax.tick_params(labelsize=5.5, length=2, width=0.5, pad=2)
    put(corr_xy[0], corr_xy[1], "Correlation", rotation=270, fontsize=7, ha="center", va="center")
    mid_c = (cx[0] + cx[1]) / 2
    mid_r = (rx[0] + rx[1]) / 2
    hline(cx[0] + 4, cx[1] - 6, 224)
    hline(rx[0] + 8, rx[1] - 4, 224)
    put(mid_c, 233, "COAD", fontsize=7, ha="center", va="center")
    put(mid_r, 233, "READ", fontsize=7, ha="center", va="center")


heat(up_coad, up_read, hm_up_genes, (536, 617), (622, 704), (709, 723), up_cmap, -0.29, 0.35,
     [-0.2, 0, 0.2], (747, 143))
heat(dn_coad, dn_read, hm_dn_genes, (798, 878), (885, 967), (974, 987), dn_cmap, -0.02, 0.64,
     [0, 0.2, 0.4, 0.6], (1010, 123))


# ---------------------------
# 7. SCATTER GRID (PANEL B)
# ---------------------------
strip_top = [312, 462, 614, 766, 916]
panel_bot = [447, 597, 746, 898, 1049]
y_range = [(-0.53, 4.12), (-0.47, 2.69), (-0.25, 6.61), (0.27, 8.45), (0.92, 7.62)]
y_major = [[0, 1, 2, 3, 4], [0, 1, 2], [0, 2, 4, 6], [2, 4, 6, 8], [2, 4, 6]]
y_minor = [[0.5, 1.5, 2.5, 3.5], [0.5, 1.5, 2.5], [1, 3, 5], [1, 3, 5, 7], [1, 3, 5, 7]]
x_major = [0.1, 0.42, 0.74]
x_minor = [0.26, 0.58, 0.9]
blue = "#1f5fbf"
strip_grey = "#d9d9d9"

for r, (gene, ys, xs, fx, fy, fse, stats) in enumerate(rows):
    top, bot = strip_top[r], panel_bot[r]
    lo, hi = y_range[r]

    # left facet strip carrying the y axis
    lax = fig.add_axes(box(45, top + 13, 58, bot))
    lax.set_facecolor(strip_grey)
    lax.set_xlim(0, 1)
    lax.set_ylim(lo, hi)
    lax.set_xticks([])
    lax.set_yticks(y_major[r])
    lax.set_yticklabels([str(t) for t in y_major[r]], fontsize=4.5, color="#4d4d4d")
    lax.tick_params(axis="y", length=2, width=0.5, color="#4d4d4d", pad=1)
    lax.text(0.5, 0.5, "COAD", rotation=90, fontsize=4.5, color="#333333", ha="center", va="center",
             transform=lax.transAxes)
    for sp in lax.spines.values():
        sp.set_color("#9a9a9a")
        sp.set_linewidth(0.7)
    put(17, (top + bot) / 2, f"{gene} Expression Level", rotation=90, fontsize=8.5, ha="center", va="center")

    for c, cell in enumerate(cells):
        x0 = 58 + c * 128.6
        x1 = x0 + 124

        sax = fig.add_axes(box(x0, top, x1, top + 13))
        sax.set_facecolor(strip_grey)
        sax.set_xticks([])
        sax.set_yticks([])
        sax.text(0.5, 0.5, cell, fontsize=4.5, color="#333333", ha="center", va="center", transform=sax.transAxes)
        for sp in sax.spines.values():
            sp.set_color("#9a9a9a")
            sp.set_linewidth(0.7)

        ax = fig.add_axes(box(x0, top + 13, x1, bot))
        ax.set_xlim(0, 1)
        ax.set_ylim(lo, hi)
        ax.set_xticks(x_major)
        ax.set_xticks(x_minor, minor=True)
        ax.set_yticks(y_major[r])
        ax.set_yticks(y_minor[r], minor=True)
        ax.grid(which="major", color="#e3e3e3", lw=0.6)
        ax.grid(which="minor", color="#f0f0f0", lw=0.4)
        ax.tick_params(which="both", length=0, labelbottom=False, labelleft=False)
        ax.set_axisbelow(True)
        for sp in ax.spines.values():
            sp.set_color("#9a9a9a")
            sp.set_linewidth(0.8)

        sns.scatterplot(x=xs[c], y=ys, ax=ax, color="#2b2b2b", s=15, linewidth=0, legend=False, zorder=2)
        lo_band = np.array(fy[c]) - np.array(fse[c])
        hi_band = np.array(fy[c]) + np.array(fse[c])
        ax.fill_between(fx[c], lo_band, hi_band, color="#9a9a9a", alpha=0.45, lw=0, zorder=3)
        sns.lineplot(x=fx[c], y=fy[c], ax=ax, color=blue, linewidth=1.3, sort=False, estimator=None,
                     legend=False, zorder=4)
        ax.set_xlim(0, 1)
        ax.set_ylim(lo, hi)
        ax.set_xlabel("")
        ax.set_ylabel("")

        lab = "cor" if c == 0 else "partial.cor"
        ax.text(0.985, 0.985, f"{lab} = {stats[c][0]}\np = {stats[c][1]}", transform=ax.transAxes,
                ha="right", va="top", color="#ff2a2a", fontsize=5.8, linespacing=0.95, zorder=5)

        # cropped x axis line of the source figure under each panel
        hline(x0, x1, bot + 4, color="#b5b5b5", lw=0.8)


fig.savefig("out.png", dpi=100)
